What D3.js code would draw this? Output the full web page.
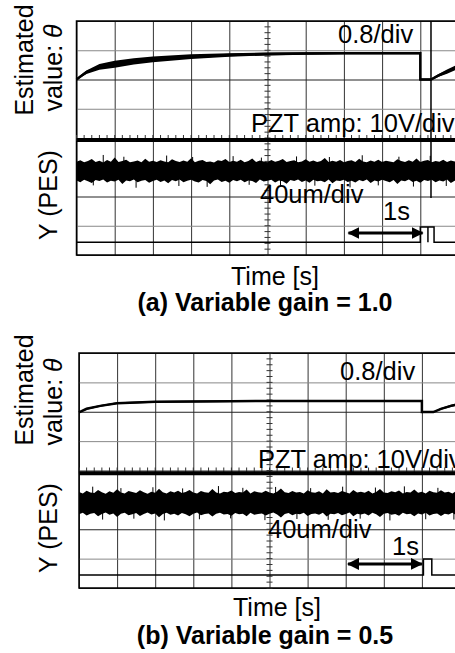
<!DOCTYPE html>
<html>
<head>
<meta charset="utf-8">
<script src="https://cdn.jsdelivr.net/npm/d3@7"></script>
<style>
  body { margin: 0; background: #fff; }
  svg { display: block; }
  text { font-family: Arial, "Liberation Sans", sans-serif; fill: #000; }
</style>
</head>
<body>
<div id="chart"></div>
<script>
// time in seconds (0.5 s / div), level in scope divisions (0 = bottom, 8 = top)

// estimated value theta, plus its ripple half-width (div)
const thetaA = [[0, 6.0], [0.06, 6.12], [0.13, 6.25], [0.3, 6.43], [0.5, 6.52], [0.75, 6.62], [1.0, 6.69],
  [1.5, 6.78], [2.0, 6.84], [2.5, 6.87], [3.0, 6.89], [3.5, 6.9], [4.0, 6.9], [4.5, 6.9],
  [4.5, 6.0], [4.64, 6.0], [4.74, 6.14], [4.85, 6.27], [5.0, 6.45]];
const thetaRippleA = [0.03, 0.04, 0.06, 0.1, 0.12, 0.11, 0.1, 0.08, 0.06, 0.05, 0.04, 0.04, 0.04, 0.04,
  0.03, 0.03, 0.05, 0.07, 0.08];
const thetaB = [[0, 5.98], [0.1, 6.1], [0.28, 6.2], [0.5, 6.29], [1.0, 6.34], [2.0, 6.36], [3.0, 6.37],
  [4.5, 6.37], [4.5, 5.99], [4.65, 5.99], [4.75, 6.1], [4.88, 6.2], [5.0, 6.27]];
const thetaRippleB = [0.02, 0.03, 0.03, 0.03, 0.03, 0.03, 0.03, 0.03, 0.02, 0.02, 0.03, 0.04, 0.04];

// PZT amplifier output
const pztA = [[0, 3.93], [4.64, 3.93], [4.64, 8], [4.64, 1.95], [4.64, 3.93], [5, 3.93]];
const pztB = [[0, 3.91], [5, 3.91]];

// PES noise band envelopes
const pesTimes = [0, 0.05, 0.1, 0.15, 0.2, 0.25, 0.3, 0.35, 0.4, 0.45, 0.5, 0.55, 0.6, 0.65, 0.7, 0.75,
  0.8, 0.85, 0.9, 0.95, 1, 1.05, 1.1, 1.15, 1.2, 1.25, 1.3, 1.35, 1.4, 1.45, 1.5, 1.55, 1.6, 1.65, 1.7,
  1.75, 1.8, 1.85, 1.9, 1.95, 2, 2.05, 2.1, 2.15, 2.2, 2.25, 2.3, 2.35, 2.4, 2.45, 2.5, 2.55, 2.6, 2.65,
  2.7, 2.75, 2.8, 2.85, 2.9, 2.95, 3, 3.05, 3.1, 3.15, 3.2, 3.25, 3.3, 3.35, 3.4, 3.45, 3.5, 3.55, 3.6,
  3.65, 3.7, 3.75, 3.8, 3.85, 3.9, 3.95, 4, 4.05, 4.1, 4.15, 4.2, 4.25, 4.3, 4.35, 4.4, 4.45, 4.5, 4.55,
  4.6, 4.65, 4.7, 4.75, 4.8, 4.85, 4.9, 4.95, 5];
const pesUpperA = [3.19, 3.24, 3.17, 3.21, 3.28, 3.18, 3.22, 3.16, 3.25, 3.19,
  3.33, 3.18, 3.21, 3.26, 3.17, 3.20, 3.23, 3.17, 3.29, 3.19,
  3.22, 3.18, 3.24, 3.20, 3.17, 3.27, 3.21, 3.18, 3.23, 3.19,
  3.31, 3.17, 3.22, 3.25, 3.18, 3.20, 3.16, 3.24, 3.21, 3.28,
  3.18, 3.22, 3.19, 3.26, 3.17, 3.21, 3.30, 3.18, 3.23, 3.20,
  3.17, 3.25, 3.19, 3.22, 3.28, 3.18, 3.21, 3.24, 3.17, 3.20,
  3.27, 3.19, 3.23, 3.18, 3.21, 3.32, 3.18, 3.22, 3.19, 3.25,
  3.17, 3.21, 3.24, 3.18, 3.29, 3.20, 3.17, 3.23, 3.19, 3.26,
  3.18, 3.22, 3.20, 3.17, 3.27, 3.21, 3.18, 3.24, 3.19, 3.30,
  3.18, 3.22, 3.25, 3.17, 3.21, 3.19, 3.26, 3.18, 3.23, 3.20, 3.24];
const pesLowerA = [2.55, 2.49, 2.57, 2.52, 2.46, 2.56, 2.53, 2.58, 2.48, 2.54,
  2.51, 2.57, 2.43, 2.55, 2.52, 2.58, 2.49, 2.54, 2.56, 2.47,
  2.53, 2.57, 2.50, 2.55, 2.45, 2.56, 2.52, 2.58, 2.49, 2.54,
  2.57, 2.51, 2.48, 2.56, 2.53, 2.42, 2.55, 2.58, 2.50, 2.54,
  2.47, 2.56, 2.52, 2.57, 2.49, 2.55, 2.53, 2.46, 2.58, 2.51,
  2.54, 2.57, 2.48, 2.55, 2.52, 2.44, 2.56, 2.53, 2.58, 2.50,
  2.55, 2.47, 2.57, 2.52, 2.54, 2.49, 2.58, 2.45, 2.55, 2.53,
  2.57, 2.50, 2.54, 2.48, 2.56, 2.52, 2.58, 2.46, 2.55, 2.51,
  2.57, 2.53, 2.49, 2.56, 2.43, 2.55, 2.52, 2.58, 2.50, 2.54,
  2.47, 2.56, 2.53, 2.57, 2.49, 2.55, 2.51, 2.58, 2.46, 2.54, 2.52];
const pesUpperB = [3.27, 3.22, 3.31, 3.25, 3.23, 3.34, 3.26, 3.21, 3.29, 3.24,
  3.36, 3.25, 3.22, 3.30, 3.27, 3.23, 3.33, 3.26, 3.21, 3.28,
  3.24, 3.38, 3.26, 3.22, 3.29, 3.25, 3.31, 3.23, 3.27, 3.34,
  3.25, 3.22, 3.30, 3.26, 3.24, 3.37, 3.25, 3.22, 3.28, 3.26,
  3.32, 3.23, 3.27, 3.25, 3.35, 3.22, 3.29, 3.26, 3.24, 3.31,
  3.25, 3.22, 3.28, 3.39, 3.26, 3.23, 3.30, 3.25, 3.27, 3.22,
  3.33, 3.26, 3.24, 3.29, 3.22, 3.36, 3.25, 3.27, 3.23, 3.30,
  3.26, 3.22, 3.34, 3.25, 3.28, 3.24, 3.31, 3.22, 3.27, 3.37,
  3.25, 3.23, 3.29, 3.26, 3.32, 3.22, 3.27, 3.25, 3.35, 3.24,
  3.28, 3.22, 3.31, 3.26, 3.24, 3.33, 3.25, 3.28, 3.22, 3.30, 3.26];
const pesLowerB = [2.51, 2.56, 2.47, 2.53, 2.55, 2.44, 2.52, 2.57, 2.49, 2.54,
  2.42, 2.53, 2.56, 2.48, 2.51, 2.55, 2.45, 2.52, 2.57, 2.50,
  2.54, 2.41, 2.52, 2.56, 2.49, 2.53, 2.47, 2.55, 2.51, 2.44,
  2.53, 2.57, 2.48, 2.52, 2.54, 2.43, 2.53, 2.56, 2.50, 2.52,
  2.46, 2.55, 2.51, 2.53, 2.44, 2.56, 2.49, 2.52, 2.54, 2.47,
  2.53, 2.57, 2.50, 2.40, 2.52, 2.55, 2.48, 2.53, 2.51, 2.56,
  2.45, 2.52, 2.54, 2.49, 2.56, 2.43, 2.53, 2.51, 2.55, 2.48,
  2.52, 2.57, 2.44, 2.53, 2.50, 2.54, 2.47, 2.56, 2.51, 2.42,
  2.53, 2.55, 2.49, 2.52, 2.46, 2.56, 2.51, 2.53, 2.44, 2.54,
  2.50, 2.56, 2.47, 2.52, 2.54, 2.45, 2.53, 2.50, 2.56, 2.48, 2.52];
// isolated noise spikes sticking out of the band
const pesSpikesA = [[0.35, 3.42], [0.62, 3.36], [1.18, 3.40], [1.52, 3.35], [2.05, 3.38], [2.42, 3.33],
  [2.88, 3.37], [3.31, 3.35], [3.74, 3.41], [4.22, 3.36], [4.63, 3.39], [0.22, 2.38], [0.78, 2.30],
  [1.34, 2.36], [1.71, 2.33], [2.26, 2.40], [2.67, 2.35], [3.12, 2.37], [3.58, 2.31], [3.95, 2.38],
  [4.41, 2.34], [4.84, 2.36]];
const pesSpikesB = [[0.18, 3.45], [0.55, 3.40], [0.97, 3.43], [1.36, 3.39], [1.83, 3.47], [2.15, 3.41],
  [2.58, 3.44], [3.04, 3.40], [3.46, 3.45], [3.89, 3.42], [4.27, 3.46], [4.71, 3.41], [0.31, 2.33],
  [0.72, 2.36], [1.12, 2.30], [1.58, 2.34], [1.99, 2.37], [2.44, 2.31], [2.86, 2.35], [3.27, 2.32],
  [3.69, 2.36], [4.08, 2.30], [4.55, 2.34], [4.92, 2.33]];
const pesCenter = [2.87, 2.89];

// switching signal (bottom trace)
const switchA = [[0, 0.44], [4.5, 0.44], [4.5, 0.96], [4.6, 0.96], [4.6, 0.44], [4.6, 0.96], [4.68, 0.96],
  [4.68, 0.44], [5, 0.44]];
const switchB = [[0, 0.44], [4.52, 0.44], [4.52, 0.99], [4.63, 0.99], [4.63, 0.44], [5, 0.44]];

// 1 s marker arrow [start, end, level]
const arrowA = [3.56, 4.53, 0.75];
const arrowB = [3.53, 4.5, 0.82];

const scaleLabels = ["0.8/div", "PZT amp: 10V/div", "40um/div", "1s"];
const captions = ["(a) Variable gain = 1.0", "(b) Variable gain = 0.5"];

const W = 455, H = 653;
const svg = d3.select("#chart").append("svg").attr("width", W).attr("height", H);

const defs = svg.append("defs");
defs.append("marker")
  .attr("id", "head")
  .attr("viewBox", "0 0 12 12")
  .attr("refX", 11).attr("refY", 6)
  .attr("markerWidth", 12).attr("markerHeight", 12)
  .attr("markerUnits", "userSpaceOnUse")
  .attr("orient", "auto-start-reverse")
  .append("path").attr("d", "M0,0 L12,6 L0,12 Z").attr("fill", "#000");
defs.append("clipPath").attr("id", "clipView")
  .append("rect").attr("x", 0).attr("y", 0).attr("width", W).attr("height", H);

function drawPanel(p) {
  const g = svg.append("g").attr("clip-path", "url(#clipView)");
  const x = d3.scaleLinear().domain([0, 5]).range([p.left, p.left + 10 * p.divW]);
  const y = d3.scaleLinear().domain([0, 8]).range([p.top + 8 * p.divH, p.top]);

  // grid via axes
  g.append("g")
    .attr("transform", `translate(0,${y(0)})`)
    .call(d3.axisBottom(x).tickValues(d3.range(0, 5.01, 0.5)).tickSize(-8 * p.divH).tickFormat(""))
    .call((a) => a.select(".domain").remove())
    .selectAll("line").attr("stroke", "#333").attr("stroke-width", 1);
  g.append("g")
    .attr("transform", `translate(${x(0)},0)`)
    .call(d3.axisLeft(y).tickValues(d3.range(0, 9, 1)).tickSize(-10 * p.divW).tickFormat(""))
    .call((a) => a.select(".domain").remove())
    .selectAll("line")
    .attr("stroke", (d) => (d % 2 ? "#888" : "#222"))
    .attr("stroke-width", 1);

  // border
  g.append("path")
    .attr("d", `M${x(5)},${y(8)}H${x(0)}V${y(0)}H${x(5)}`)
    .attr("fill", "none").attr("stroke", "#000").attr("stroke-width", 1.5);

  // minor ticks on the centre axes
  g.selectAll(".vtick").data(d3.range(0, 8.01, 0.2)).join("line")
    .attr("x1", x(2.5) - 3).attr("x2", x(2.5) + 3)
    .attr("y1", (d) => y(d)).attr("y2", (d) => y(d))
    .attr("stroke", "#333");
  g.selectAll(".htick").data(d3.range(0, 5.01, 0.1)).join("line")
    .attr("x1", (d) => x(d)).attr("x2", (d) => x(d))
    .attr("y1", y(4) - 3).attr("y2", y(4) + 3)
    .attr("stroke", "#333");

  const line = d3.line().x((d) => x(d[0])).y((d) => y(d[1]));

  // PES band
  const band = pesTimes.map((t, i) => ({ t, hi: p.pesUpper[i], lo: p.pesLower[i] }));
  g.append("path")
    .datum(band)
    .attr("fill", "#000")
    .attr("d", d3.area().x((d) => x(d.t)).y0((d) => y(d.lo)).y1((d) => y(d.hi)));
  g.selectAll(".spike").data(p.pesSpikes).join("line")
    .attr("x1", (d) => x(d[0])).attr("x2", (d) => x(d[0]))
    .attr("y1", y(p.pesCenter)).attr("y2", (d) => y(d[1]))
    .attr("stroke", "#000").attr("stroke-width", 1);

  // theta trace with its ripple envelope
  const thetaBand = p.theta.map((d, i) => ({ t: d[0], v: d[1], r: p.ripple[i] }));
  g.append("path").datum(thetaBand)
    .attr("fill", "#000")
    .attr("d", d3.area().x((d) => x(d.t)).y0((d) => y(d.v - d.r)).y1((d) => y(d.v + d.r)));
  g.append("path").datum(p.theta)
    .attr("fill", "none").attr("stroke", "#000").attr("stroke-width", 2.5).attr("d", line);

  // PZT trace: thick level line plus the glitch
  g.append("path").datum(p.pzt)
    .attr("fill", "none").attr("stroke", "#000").attr("stroke-width", 1).attr("d", line);
  g.append("path").datum([p.pzt[0], p.pzt[p.pzt.length - 1]])
    .attr("fill", "none").attr("stroke", "#000").attr("stroke-width", 4).attr("d", line);
  g.append("path").datum(p.sw)
    .attr("fill", "none").attr("stroke", "#000").attr("stroke-width", 1.5).attr("d", line);

  // 1 s arrow
  g.append("line")
    .attr("x1", x(p.arrow[0])).attr("x2", x(p.arrow[1]))
    .attr("y1", y(p.arrow[2])).attr("y2", y(p.arrow[2]))
    .attr("stroke", "#000").attr("stroke-width", 3)
    .attr("marker-start", "url(#head)").attr("marker-end", "url(#head)");

  // scale annotations
  p.notes.forEach((n, i) => {
    g.append("text")
      .attr("x", n[0]).attr("y", n[1])
      .attr("font-size", 25.5)
      .text(scaleLabels[i]);
  });

  // side labels
  const side = [
    { text: "Estimated", x: p.sideX[0], y: p.sideY[0] },
    { text: "value: ", x: p.sideX[1], y: p.sideY[1], theta: true },
    { text: "Y (PES)", x: p.sideX[2], y: p.sideY[2] }
  ];
  side.forEach((s) => {
    const t = svg.append("text")
      .attr("transform", `translate(${s.x},${s.y}) rotate(-90)`)
      .attr("text-anchor", "middle")
      .attr("font-size", 25)
      .text(s.text);
    if (s.theta) t.append("tspan").attr("font-style", "italic").text("θ");
  });

  svg.append("text")
    .attr("x", p.timeX).attr("y", p.timeY)
    .attr("text-anchor", "middle").attr("font-size", 25)
    .text("Time [s]");
  svg.append("text")
    .attr("x", 265).attr("y", p.capY)
    .attr("text-anchor", "middle").attr("font-size", 25).attr("font-weight", "bold")
    .text(p.caption);
}

drawPanel({
  left: 76.5, top: 21, divW: 38.2, divH: 29.25,
  theta: thetaA, ripple: thetaRippleA, pzt: pztA, sw: switchA, arrow: arrowA,
  pesUpper: pesUpperA, pesLower: pesLowerA, pesSpikes: pesSpikesA, pesCenter: pesCenter[0],
  notes: [[338, 43], [251, 132], [260, 203], [383, 220]],
  sideX: [33, 62, 57], sideY: [60, 68, 195],
  timeX: 275, timeY: 285, capY: 311, caption: captions[0]
});
drawPanel({
  left: 79, top: 353, divW: 38.1, divH: 29.375,
  theta: thetaB, ripple: thetaRippleB, pzt: pztB, sw: switchB, arrow: arrowB,
  pesUpper: pesUpperB, pesLower: pesLowerB, pesSpikes: pesSpikesB, pesCenter: pesCenter[1],
  notes: [[340, 380], [258, 468], [268, 538], [392, 555]],
  sideX: [33, 62, 57], sideY: [390, 402, 528],
  timeX: 277, timeY: 616, capY: 644, caption: captions[1]
});
</script>
</body>
</html>
